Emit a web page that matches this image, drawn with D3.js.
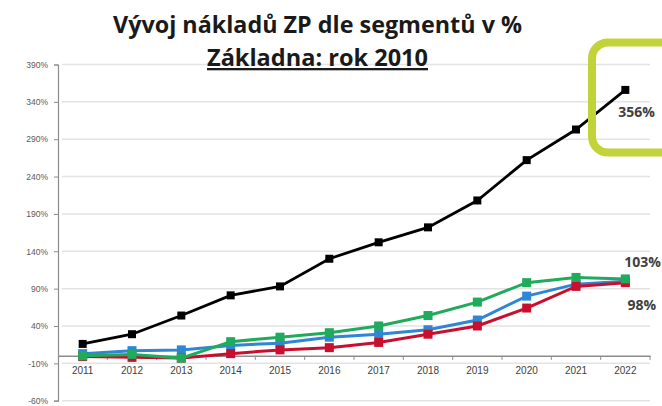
<!DOCTYPE html>
<html>
<head>
<meta charset="utf-8">
<script src="https://cdn.jsdelivr.net/npm/d3@7"></script>
<style>
    body { margin: 0; background: #fff; }
    svg { display: block; font-family: "Open Sans", "DejaVu Sans", sans-serif; }
</style>
</head>
<body>
<div class="chart"></div>
<script>
const years = ['2011', '2012', '2013', '2014', '2015', '2016', '2017', '2018', '2019', '2020', '2021', '2022']
const yTicks = [-60, -10, 40, 90, 140, 190, 240, 290, 340, 390]
// hodnoty v % oproti roku 2010
const blackVals = [16, 29, 54, 81, 93, 130, 152, 172, 208, 262, 303, 356]
const blueVals = [3, 7, 8, 14, 17, 25, 29, 35, 48, 80, 96, 100]
const redVals = [-1, -2, -3, 3, 8, 11, 18, 29, 40, 64, 93, 98]
const greenVals = [0, 2, -3, 19, 25, 31, 40, 54, 72, 98, 105, 103]
const endLabels = [['356%', 356, 'black'], ['103%', 103, 'green'], ['98%', 98, 'red']]

const width = 662,
    height = 406
const plotLeft = 58, plotRight = 650, plotTop = 64.5, plotBottom = 400.7

const svg = d3.select('.chart').append('svg')
    .attr('width', width)
    .attr('height', height)

const x = d3.scaleBand().domain(years).range([plotLeft, plotRight])
const y = d3.scaleLinear().domain([-60, 390]).range([plotBottom, plotTop])

// mrizka
svg.append('g').selectAll('line')
    .data(yTicks)
    .enter().append('line')
    .attr('x1', plotLeft + 4)
    .attr('x2', plotRight)
    .attr('y1', d => y(d))
    .attr('y2', d => y(d))
    .style('stroke', '#e3e3e3')
    .style('stroke-width', 1.5)

// osa y
const yAxis = svg.append('g')
    .attr('transform', 'translate(' + plotLeft + ',0)')
    .call(d3.axisLeft(y).tickValues(yTicks).tickSize(4).tickFormat(d => d + '%'))
yAxis.select('.domain').attr('stroke', '#8c8c8c').attr('stroke-width', 1.2)
yAxis.selectAll('.tick line').attr('stroke', '#8c8c8c')
yAxis.selectAll('text')
    .attr('x', -10)
    .style('font-size', '8.5px')
    .style('fill', '#595959')

// osa x v nule
const xAxis = svg.append('g')
    .attr('transform', 'translate(0,' + y(0) + ')')
    .call(d3.axisBottom(x).tickSize(0).tickPadding(11))
xAxis.select('.domain').attr('stroke', '#8c8c8c').attr('stroke-width', 1.5)
xAxis.selectAll('text')
    .style('font-size', '10px')
    .style('fill', '#404040')
svg.append('g').selectAll('line')
    .data(years)
    .enter().append('line')
    .attr('x1', d => x(d) + x.bandwidth())
    .attr('x2', d => x(d) + x.bandwidth())
    .attr('y1', y(0))
    .attr('y2', y(0) + 4)
    .style('stroke', '#8c8c8c')

const series = [
    { name: 'blue', values: blueVals, color: '#2f86d4', w: 3, m: 9 },
    { name: 'red', values: redVals, color: '#c8102e', w: 3, m: 9 },
    { name: 'green', values: greenVals, color: '#1fab5b', w: 3, m: 9 },
    { name: 'black', values: blackVals, color: '#000000', w: 2.8, m: 8 }
]

const line = d3.line()
    .x((d, i) => x(years[i]) + x.bandwidth() / 2)
    .y(d => y(d))

series.forEach(s => {
    const g = svg.append('g').attr('class', s.name)
    g.append('path')
        .datum(s.values)
        .attr('d', line)
        .style('fill', 'none')
        .style('stroke', s.color)
        .style('stroke-width', s.w)
    g.selectAll('rect')
        .data(s.values)
        .enter().append('rect')
        .attr('x', (d, i) => x(years[i]) + x.bandwidth() / 2 - s.m / 2)
        .attr('y', d => y(d) - s.m / 2)
        .attr('width', s.m)
        .attr('height', s.m)
        .style('fill', s.color)
})

// popisky na konci
const labelPos = { black: [655, 27], green: [661, -12], red: [656, 27] }
svg.append('g').selectAll('text')
    .data(endLabels)
    .enter().append('text')
    .attr('x', d => labelPos[d[2]][0])
    .attr('y', d => y(d[1]) + labelPos[d[2]][1])
    .style('text-anchor', 'end')
    .style('font-size', '14px')
    .style('font-weight', 'bold')
    .style('fill', '#404040')
    .text(d => d[0])

// zeleny ramecek
svg.append('rect')
    .attr('x', 592)
    .attr('y', 42.5)
    .attr('width', 120)
    .attr('height', 110)
    .attr('rx', 16)
    .style('fill', 'none')
    .style('stroke', '#c2d33a')
    .style('stroke-width', 8)

// nadpis
svg.append('text')
    .attr('x', 317.5)
    .attr('y', 33)
    .attr('textLength', 409)
    .attr('lengthAdjust', 'spacingAndGlyphs')
    .style('text-anchor', 'middle')
    .style('font-size', '23px')
    .style('font-weight', 'bold')
    .style('fill', '#1a1a1a')
    .text('Vývoj nákladů ZP dle segmentů v %')
svg.append('text')
    .attr('x', 317.5)
    .attr('y', 66)
    .attr('textLength', 221)
    .attr('lengthAdjust', 'spacingAndGlyphs')
    .style('text-anchor', 'middle')
    .style('font-size', '23px')
    .style('font-weight', 'bold')
    .style('text-decoration', 'underline')
    .style('fill', '#1a1a1a')
    .text('Základna: rok 2010')
</script>
</body>
</html>
